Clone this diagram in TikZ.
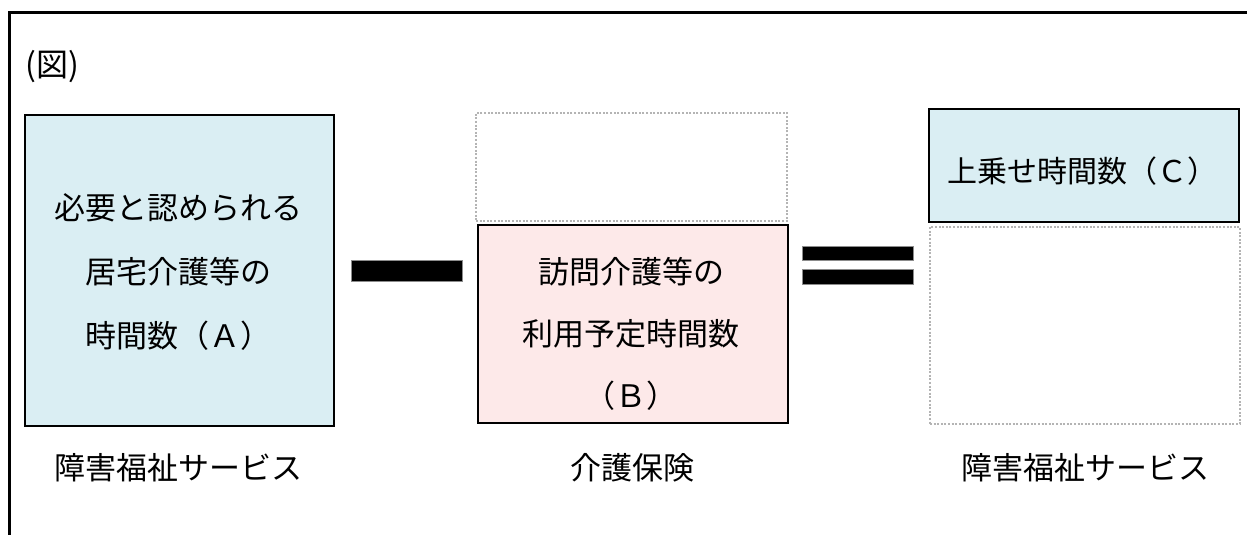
\documentclass[tikz,border=0pt]{standalone}
\usepackage{fontspec}
\newfontfamily\jp{Noto Sans CJK JP}
\definecolor{boxblue}{HTML}{DAEEF3}
\definecolor{boxpink}{HTML}{FDE9E9}
\definecolor{dotgray}{HTML}{B4B4B4}
\begin{document}
\begin{tikzpicture}[x=1pt,y=-1pt,
  solidbox/.style={draw=black,line width=2pt,rectangle,inner sep=0pt},
  dotbox/.style={draw=dotgray,line width=2pt,dash pattern=on 2pt off 1.6pt,rectangle,inner sep=0pt},
  txt/.style={font=\jp\fontsize{31}{64}\selectfont,align=center,inner sep=0pt},
  lbl/.style={font=\jp\fontsize{31}{36}\selectfont,inner sep=0pt},
  opbar/.style={fill=black,draw=black!45,line width=0.8pt}]
\useasboundingbox (0,0) rectangle (1247,535);
\fill[white] (0,0) rectangle (1247,535);
% outer frame (cropped on right and bottom)
\draw[line width=3pt] (9,536) -- (9,13) -- (1248,13);
\node[lbl,anchor=center,font=\jp\fontsize{32}{36}\selectfont] (fig) at (52,67) {(図)};
% box A
\node[solidbox,fill=boxblue,minimum width=309pt,minimum height=311pt] (A) at (179.5,270.5) {};
\node[txt] (Atext) at (178,272) {必要と認められる\\居宅介護等の\\時間数（Ａ）};
% box B
\node[dotbox,minimum width=311pt,minimum height=108pt] (Bdot) at (631.5,167) {};
\node[solidbox,fill=boxpink,minimum width=310pt,minimum height=198pt] (B) at (633,324) {};
\node[txt,font=\jp\fontsize{31}{62}\selectfont] (Btext) at (631,334) {訪問介護等の\\利用予定時間数\\（Ｂ）};
% box C
\node[solidbox,fill=boxblue,minimum width=310pt,minimum height=113pt] (C) at (1084,165.5) {};
\node[txt,font=\jp\fontsize{30}{36}\selectfont] (Ctext) at (1082,171) {上乗せ時間数（Ｃ）};
\node[dotbox,minimum width=310pt,minimum height=197pt] (Cdot) at (1085,325.5) {};
% operators
\draw[opbar] (351,260) rectangle (462,281);
\draw[opbar] (802,246) rectangle (913,260);
\draw[opbar] (802,269) rectangle (913,284);
% labels
\node[lbl] (L1) at (178,468) {障害福祉サービス};
\node[lbl] (L2) at (632,468) {介護保険};
\node[lbl] (L3) at (1085,468) {障害福祉サービス};
\end{tikzpicture}
\end{document}
